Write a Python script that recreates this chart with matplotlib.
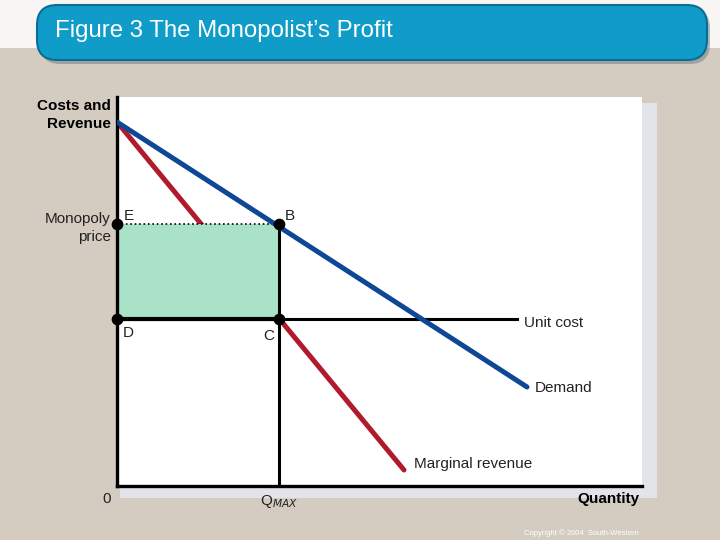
import matplotlib
matplotlib.use("Agg")
import matplotlib.pyplot as plt
from matplotlib.patches import FancyBboxPatch, Rectangle

plt.rcParams['font.family'] = ['Liberation Sans', 'DejaVu Sans']

# data (chart units, origin at the axes corner)
demand_x = [0, 410]
demand_y = [364, 99]
mr_x = [0, 287]
mr_y = [364, 16]
unit_cost = 167
unit_cost_end = 400
q_max = 162
monopoly_price = 262
points = {'E': (0, monopoly_price), 'B': (q_max, monopoly_price),
          'D': (0, unit_cost), 'C': (q_max, unit_cost)}

W, H = 720, 540
fig = plt.figure(figsize=(7.2, 5.4), dpi=100)
fig.patch.set_facecolor('#d4ccc1')

# white band at top
fig.patches.append(Rectangle((0, 1 - 48 / H), 1, 48 / H, transform=fig.transFigure,
                             facecolor='#f7f6f4', edgecolor='none', zorder=-3))
# title banner shadow + banner
fig.patches.append(FancyBboxPatch((40 / W, 1 - 64 / H), 670 / W, 56 / H,
                                  boxstyle="round,pad=0,rounding_size=0.028",
                                  mutation_aspect=W / H,
                                  transform=fig.transFigure, facecolor='#6f7a80',
                                  edgecolor='none', alpha=0.5, zorder=-2))
fig.patches.append(FancyBboxPatch((37 / W, 1 - 60 / H), 670 / W, 55 / H,
                                  boxstyle="round,pad=0,rounding_size=0.028",
                                  mutation_aspect=W / H,
                                  transform=fig.transFigure, facecolor='#109cc8',
                                  edgecolor='#0a6e94', linewidth=1.5, zorder=-1))
fig.text(55 / W, 1 - 31 / H, "Figure 3 The Monopolist\u2019s Profit", color='white',
         fontsize=17.3, va='center', ha='left')

# panel shadow
fig.patches.append(Rectangle((120 / W, 1 - 498 / H), 537 / W, 395 / H,
                             transform=fig.transFigure, facecolor='#e3e3ec',
                             edgecolor='none', zorder=-2))

ax = fig.add_axes([117 / W, 1 - 486 / H, 525 / W, 389 / H])
ax.set_zorder(5)
ax.set_xlim(0, 525)
ax.set_ylim(0, 389)
ax.set_facecolor('white')
for s in ['top', 'right']:
    ax.spines[s].set_visible(False)
for s in ['left', 'bottom']:
    ax.spines[s].set_linewidth(2.4)
ax.set_xticks([])
ax.set_yticks([])

# marginal revenue goes under the profit box
ax.plot(mr_x, mr_y, color='#b01a2c', lw=3.6, solid_capstyle='round', zorder=1)

# profit rectangle
ax.add_patch(Rectangle((0, unit_cost), q_max, monopoly_price - unit_cost,
                       facecolor='#a9e1c9', edgecolor='none', zorder=2))
ax.plot([0, q_max], [monopoly_price, monopoly_price], color='black', lw=1.2,
        ls=':', zorder=3)
ax.plot([q_max, q_max], [0, monopoly_price], color='black', lw=2.2, zorder=3)
ax.plot([0, unit_cost_end], [unit_cost, unit_cost], color='black', lw=2.2, zorder=3)
ax.plot([0, q_max], [unit_cost, unit_cost], color='black', lw=3, zorder=3)

ax.plot(demand_x, demand_y, color='#0f4797', lw=3.6, solid_capstyle='round', zorder=5)

px = [p[0] for p in points.values()]
py = [p[1] for p in points.values()]
ax.scatter(px, py, s=55, color='black', zorder=6, clip_on=False)

def t(x, y, s, **kw):
    ax.text(x - 117, 486 - y, s, clip_on=False, **kw)

t(111, 115, "Costs and\nRevenue", fontsize=11, fontweight='bold', ha='right',
  va='center', linespacing=1.3)
t(111, 228, "Monopoly\nprice", fontsize=11, ha='right', va='center',
  linespacing=1.45, color='#222222')
t(124, 216, "E", fontsize=11, va='center', color='#222222')
t(285, 216, "B", fontsize=11, va='center', color='#222222')
t(123, 333, "D", fontsize=11, va='center', color='#222222')
t(263, 336, "C", fontsize=11, va='center', color='#222222')
t(524, 323, "Unit cost", fontsize=11, va='center', color='#222222')
t(535, 388, "Demand", fontsize=11, va='center', color='#222222')
t(414, 464, "Marginal revenue", fontsize=11, va='center', color='#222222')
t(107, 499, "0", fontsize=11, va='center', ha='center', color='#222222')
t(260, 501, r"Q$_{\mathit{MAX}}$", fontsize=11, va='center', color='#222222')
t(640, 499, "Quantity", fontsize=11, fontweight='bold', va='center', ha='right')
fig.text(524 / W, 1 - 533 / H, "Copyright \u00a9 2004  South-Western", color='white',
         fontsize=5.5, va='center', ha='left')

fig.savefig("out.png", dpi=100, facecolor=fig.get_facecolor())
